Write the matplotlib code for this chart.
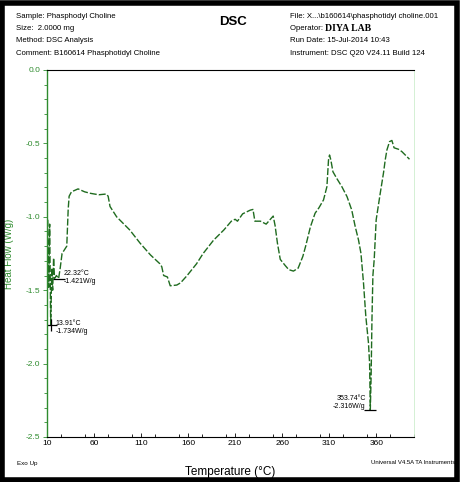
import numpy as np
import matplotlib
matplotlib.use("Agg")
import matplotlib.pyplot as plt
from matplotlib.ticker import MultipleLocator
from matplotlib.patches import Rectangle

# DSC trace (temperature in C, heat flow in W/g)
temp = [10.8, 11.8, 12.8, 13.91, 15.0, 16.0, 17.0, 18.0, 20.0, 22.32, 24.0, 26.0,
        29.0, 31.0, 32.5, 33.5, 36.0, 43.0, 50.0, 56.0, 65.0, 73.0, 75.0, 77.0,
        84.0, 98.0, 109.0, 120.0, 130.0, 132.0, 134.0, 138.0, 141.0, 148.0, 152.0,
        159.0, 169.0, 176.0, 187.0, 198.0, 206.0, 210.0, 212.5, 218.0, 226.0, 229.0,
        231.0, 237.0, 243.0, 250.5, 252.5, 255.0, 258.0, 263.0, 267.0, 272.0, 277.0,
        282.0, 285.0, 290.0, 295.0, 299.0, 304.0, 307.6, 309.3, 310.4, 311.8, 314.0,
        318.0, 323.5, 329.0, 334.0, 337.7, 341.2, 343.8, 346.5, 349.0, 351.8, 353.0,
        353.74, 354.6, 355.5, 356.5, 357.9, 360.0, 364.3, 367.8, 369.6, 371.4, 374.2,
        376.7, 379.0, 383.7, 387.3, 392.0, 395.4]
heat_flow = [-1.02, -1.48, -1.05, -1.734, -1.35, -1.50, -1.28, -1.42, -1.40, -1.421,
             -1.35, -1.25, -1.22, -1.20, -0.95, -0.86, -0.83, -0.81, -0.83, -0.84,
             -0.85, -0.845, -0.86, -0.93, -1.00, -1.09, -1.18, -1.26, -1.32, -1.34,
             -1.40, -1.41, -1.47, -1.465, -1.45, -1.40, -1.32, -1.25, -1.16, -1.09,
             -1.03, -1.017, -1.03, -0.98, -0.955, -0.95, -1.03, -1.03, -1.05, -0.995,
             -1.06, -1.18, -1.29, -1.33, -1.36, -1.37, -1.35, -1.27, -1.20, -1.07,
             -0.976, -0.94, -0.885, -0.795, -0.613, -0.579, -0.613, -0.693, -0.738,
             -0.795, -0.863, -0.954, -1.067, -1.158, -1.249, -1.45, -1.68, -1.86,
             -2.00, -2.316, -2.09, -1.70, -1.40, -1.29, -1.02, -0.84, -0.70, -0.613,
             -0.545, -0.488, -0.48, -0.53, -0.54, -0.556, -0.586, -0.608]

# labelled points
peak_t = [22.32, 13.91, 353.74]
peak_hf = [-1.421, -1.734, -2.316]
peak_labels = ["22.32°C\n-1.421W/g", "13.91°C\n-1.734W/g", "353.74°C\n-2.316W/g"]

x_ticks = [10, 60, 110, 160, 210, 260, 310, 360]
y_ticks = [0.0, -0.5, -1.0, -1.5, -2.0, -2.5]

dark_green = "#1f6b1f"
axis_green = "#2e8b2e"
fam = ["Liberation Sans", "DejaVu Sans"]

fig = plt.figure(figsize=(4.66, 4.82), dpi=100)
fig.patches.append(Rectangle((0.004, 0.004), 0.976, 0.99, transform=fig.transFigure,
                             fill=False, edgecolor="black", linewidth=4))

ax = fig.add_axes([0.1009, 0.0934, 0.7871, 0.7614])
ax.plot(temp, heat_flow, color=dark_green, linewidth=1.0, linestyle=(0, (5, 1.5)))

ax.set_xlim(10, 400)
ax.set_ylim(-2.5, 0.0)
ax.set_xticks(x_ticks)
ax.set_yticks(y_ticks)
ax.set_yticklabels([f"{v:.1f}" for v in y_ticks])
ax.xaxis.set_minor_locator(MultipleLocator(25))
ax.yaxis.set_minor_locator(MultipleLocator(0.1))
ax.tick_params(which="both", direction="in", length=3, width=0.6, pad=2)
ax.tick_params(which="minor", length=2)
ax.tick_params(axis="y", which="both", colors=axis_green, labelcolor=axis_green,
               direction="out")
for lbl in ax.get_xticklabels() + ax.get_yticklabels():
    lbl.set_family(fam)
    lbl.set_fontsize(6)

ax.spines["left"].set_color(axis_green)
ax.spines["left"].set_linewidth(1.0)
ax.spines["top"].set_color("black")
ax.spines["bottom"].set_color("black")
ax.spines["right"].set_color("#cdeecd")
ax.spines["right"].set_linewidth(0.6)

ax.set_ylabel("Heat Flow (W/g)", color=axis_green, fontsize=7, family=fam)
ax.yaxis.set_label_coords(-0.09, 0.5)
ax.set_xlabel("Temperature (°C)", fontsize=8.5, family=fam)
ax.xaxis.set_label_coords(0.5, -0.078)

# peak markers and labels
ax.plot(peak_t[0], peak_hf[0], marker="_", color="black", markersize=8, mew=0.9)
ax.plot(peak_t[1], peak_hf[1], marker="+", color="black", markersize=8, mew=0.9)
ax.plot(peak_t[2], peak_hf[2], marker="_", color="black", markersize=8, mew=0.9)
ax.text(peak_t[0] + 5, peak_hf[0] + 0.01, peak_labels[0], fontsize=5, family=fam,
        va="center", ha="left", linespacing=1.2)
ax.text(peak_t[1] + 5, peak_hf[1] - 0.02, peak_labels[1], fontsize=5, family=fam,
        va="center", ha="left", linespacing=1.2)
ax.text(peak_t[2] - 5, peak_hf[2] + 0.05, peak_labels[2], fontsize=5, family=fam,
        va="center", ha="right", linespacing=1.2)

# header block
left_info = ["Sample: Phasphodyl Choline", "Size:  2.0000 mg",
             "Method: DSC Analysis", "Comment: B160614 Phasphotidyl Choline"]
right_info = ["File: X...\\b160614\\phasphotidyl choline.001", "Operator: ",
              "Run Date: 15-Jul-2014 10:43", "Instrument: DSC Q20 V24.11 Build 124"]
for i, s in enumerate(left_info):
    fig.text(16 / 466, 1 - (16 + 12.5 * i) / 482, s, fontsize=5.6, family=fam, va="center")
for i, s in enumerate(right_info):
    fig.text(290 / 466, 1 - (16 + 12.5 * i) / 482, s, fontsize=5.6, family=fam,
             va="center")
fig.text(325 / 466, 1 - 28.5 / 482, "DIYA LAB", fontsize=7, family="Liberation Serif",
         weight="bold", va="center")
fig.text(233 / 466, 1 - 22 / 482, "DSC", fontsize=9.5, weight="bold", family=fam,
         ha="center", va="center")

fig.text(17 / 466, 1 - 463 / 482, "Exo Up", fontsize=4.5, family=fam, va="center")
fig.text(455 / 466, 1 - 463 / 482, "Universal V4.5A TA Instruments", fontsize=4.3,
         family=fam, va="center", ha="right")

fig.savefig("out.png", dpi=100)
